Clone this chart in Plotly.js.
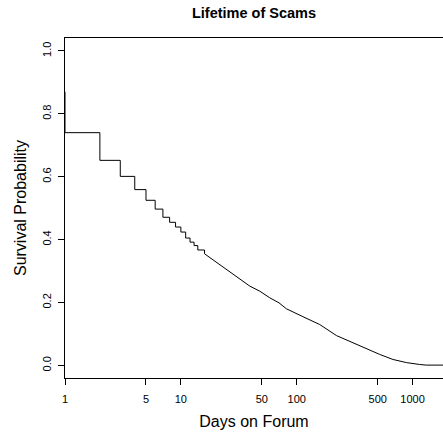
<!DOCTYPE html>
<html>
<head>
<meta charset="utf-8">
<script src="https://cdn.plot.ly/plotly-3.0.1.min.js"></script>
<style>html,body{margin:0;padding:0;background:#fff;}#chart{width:443px;height:437px;}</style>
</head>
<body>
<div id="chart"></div>
<script>
// Early part of the Kaplan-Meier curve (clear steps)
var stepDays = [1, 1, 2, 3, 4, 5, 6, 7, 8, 9, 10, 11, 12, 13, 14, 16];
var stepSurv = [0.87, 0.740, 0.652, 0.601, 0.559, 0.525, 0.497, 0.471, 0.455, 0.440, 0.424, 0.405, 0.392, 0.381, 0.367, 0.355];
// Later part (many tiny steps, read as a curve)
var tailDays = [16, 18.4, 21.7, 26.4, 32.3, 39.4, 48, 58.5, 70.3, 81.5, 113, 158, 220, 306, 420, 520, 676, 883, 1150, 1310, 1830];
var tailSurv = [0.355, 0.339, 0.321, 0.296, 0.275, 0.252, 0.236, 0.215, 0.199, 0.180, 0.155, 0.130, 0.095, 0.072, 0.049, 0.035, 0.019, 0.009, 0.003, 0.001, 0.001];
var xTickVals = [1, 5, 10, 50, 100, 500, 1000];
var xTickText = ['1', '5', '10', '50', '100', '500', '1000'];
var yTickVals = [0, 0.2, 0.4, 0.6, 0.8, 1.0];
var yTickText = ['0.0', '0.2', '0.4', '0.6', '0.8', '1.0'];

var font = 'Liberation Sans, Arial, sans-serif';
var traces = [
  {x: stepDays, y: stepSurv, mode: 'lines', line: {color: '#000', width: 1, shape: 'hv'}, hoverinfo: 'skip'},
  {x: tailDays, y: tailSurv, mode: 'lines', line: {color: '#000', width: 1, shape: 'linear'}, hoverinfo: 'skip'}
];
var layout = {
  width: 443, height: 437,
  margin: {l: 65, r: 0, t: 38, b: 59},
  paper_bgcolor: '#fff', plot_bgcolor: '#fff',
  showlegend: false,
  font: {family: font, color: '#000'},
  title: {text: '<b>Lifetime of Scams</b>', font: {size: 14.5, family: font, color: '#000'},
          xref: 'container', yref: 'container', x: 254/443, xanchor: 'center', y: 1 - 13/437, yanchor: 'middle'},
  xaxis: {
    type: 'log', range: [0, Math.log10(1830)],
    tickmode: 'array', tickvals: xTickVals, ticktext: xTickText,
    ticks: 'outside', ticklen: 6, tickwidth: 1, tickcolor: '#000',
    ticklabelstandoff: 5,
    tickfont: {size: 11, family: font, color: '#000'},
    showgrid: false, zeroline: false,
    showline: true, linecolor: '#000', linewidth: 1, mirror: true,
    title: {text: 'Days on Forum', font: {size: 16, family: font, color: '#000'}, standoff: 11}
  },
  yaxis: {
    range: [-0.04, 1.041],
    tickmode: 'array', tickvals: yTickVals, ticktext: yTickText,
    tickangle: -90,
    ticks: 'outside', ticklen: 6, tickwidth: 1, tickcolor: '#000',
    ticklabelstandoff: 3,
    tickfont: {size: 11, family: font, color: '#000'},
    showgrid: false, zeroline: false,
    showline: true, linecolor: '#000', linewidth: 1, mirror: false,
    title: {text: 'Survival Probability', font: {size: 16, family: font, color: '#000'}, standoff: 9}
  }
};
Plotly.newPlot('chart', traces, layout, {staticPlot: true, displayModeBar: false});
</script>
</body>
</html>
